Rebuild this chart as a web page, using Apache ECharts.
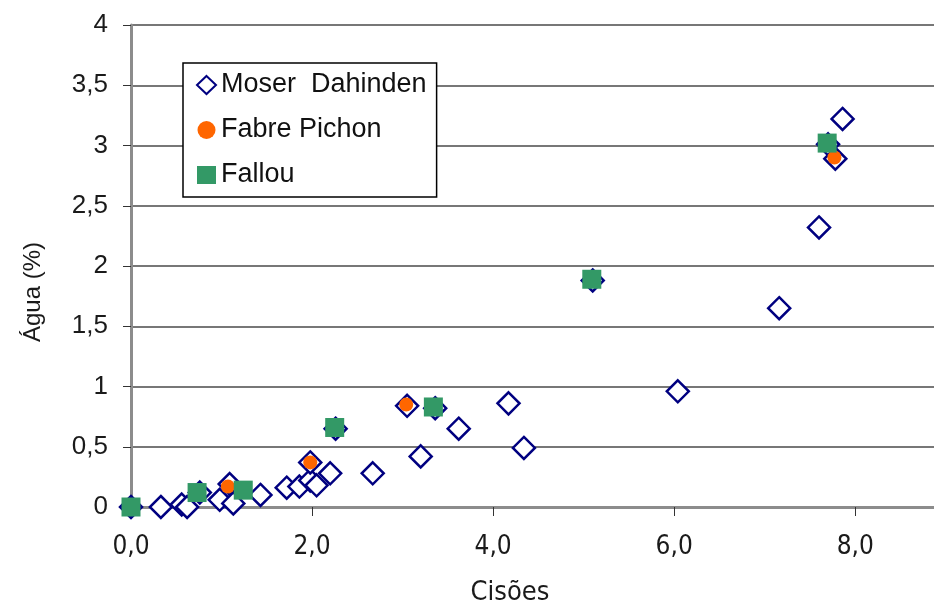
<!DOCTYPE html>
<html>
<head>
<meta charset="utf-8">
<script src="https://cdn.jsdelivr.net/npm/echarts@6/dist/echarts.min.js"></script>
<style>
  html, body { margin: 0; padding: 0; background: #fff; }
  #chart { width: 934px; height: 605px; }
</style>
</head>
<body>
<div id="chart"></div>
<script>
// Teor de água (%) em função do número de cisões, três séries de ensaio
const moserDahinden = [
  [0.00, 0.00], [0.33, 0.00], [0.56, 0.02], [0.62, 0.00], [0.76, 0.12],
  [0.98, 0.06], [1.09, 0.19], [1.13, 0.03], [1.43, 0.10], [1.72, 0.16],
  [1.86, 0.17], [1.98, 0.22], [2.05, 0.18], [1.98, 0.37], [2.20, 0.28],
  [2.26, 0.65], [2.67, 0.28], [3.05, 0.84], [3.20, 0.42], [3.36, 0.82],
  [3.62, 0.65], [4.17, 0.86], [4.34, 0.49], [5.10, 1.88], [6.04, 0.96],
  [7.16, 1.65], [7.60, 2.32], [7.70, 3.01], [7.78, 2.89], [7.86, 3.22]
];
const fabrePichon = [
  [1.07, 0.17], [1.98, 0.37], [3.04, 0.85], [7.77, 2.90]
];
const fallou = [
  [0.00, 0.00], [0.73, 0.12], [1.24, 0.14], [2.25, 0.66],
  [3.34, 0.83], [5.09, 1.89], [7.69, 3.02]
];
const seriesNames = ['Moser  Dahinden', 'Fabre Pichon', 'Fallou'];
const yTicks = [0, 0.5, 1, 1.5, 2, 2.5, 3, 3.5, 4];
const xTicks = [0, 2, 4, 6, 8];
// the plot runs off the right edge, so the visible range ends just short of 9
const xVisibleMax = 8.87;

const fmtComma = (v, d) => v.toFixed(d).replace('.', ',');
const sansFont = '"Liberation Sans", Arial, sans-serif';
const narrowFont = '"DejaVu Sans Condensed", "Liberation Sans Narrow", "Arial Narrow", sans-serif';

const chart = echarts.init(document.getElementById('chart'), null, { renderer: 'canvas' });

chart.setOption({
  animation: false,
  backgroundColor: '#ffffff',
  grid: { left: 131, top: 25, right: 0, bottom: 98 },
  legend: {
    orient: 'vertical',
    left: 183,
    top: 63,
    padding: [7, 10, 7, 13],
    itemGap: 15,
    itemWidth: 19,
    itemHeight: 18,
    backgroundColor: '#ffffff',
    borderColor: '#000000',
    borderWidth: 1.5,
    borderRadius: 0,
    data: seriesNames,
    textStyle: { fontFamily: sansFont, fontSize: 27, color: '#111', lineHeight: 30 }
  },
  xAxis: [{
    type: 'value',
    min: xTicks[0],
    max: xVisibleMax,
    interval: 2,
    axisLine: { show: true, onZero: false, lineStyle: { color: '#444', width: 2 } },
    axisTick: { show: true, inside: false, length: 9, lineStyle: { color: '#333', width: 1 } },
    axisLabel: {
      margin: 27,
      showMaxLabel: false,
      fontFamily: narrowFont,
      fontSize: 26,
      color: '#1a1a1a',
      formatter: v => (xTicks.indexOf(v) >= 0 ? fmtComma(v, 1) : '')
    },
    splitLine: { show: false }
  }, {
    type: 'value',
    position: 'top',
    min: 0,
    max: xVisibleMax,
    axisLine: { show: true, lineStyle: { color: '#8c8c8c', width: 3 } },
    axisTick: { show: false },
    axisLabel: { show: false },
    splitLine: { show: false }
  }],
  yAxis: {
    type: 'value',
    min: yTicks[0],
    max: yTicks[yTicks.length - 1],
    interval: 0.5,
    axisLine: { show: true, onZero: false, lineStyle: { color: '#8c8c8c', width: 3 } },
    axisTick: { show: true, inside: false, length: 8, lineStyle: { color: '#333', width: 1 } },
    axisLabel: {
      margin: 23,
      fontFamily: sansFont,
      fontSize: 26,
      color: '#1a1a1a',
      formatter: v => (Number.isInteger(v) ? String(v) : fmtComma(v, 1))
    },
    splitLine: { show: true, lineStyle: { color: '#777', width: 2 } }
  },
  graphic: [
    {
      type: 'text', x: 33, y: 292, rotation: Math.PI / 2,
      style: { text: 'Água (%)', font: '24px ' + sansFont, fill: '#1a1a1a', align: 'center', verticalAlign: 'middle' }
    },
    {
      type: 'text', x: 510, y: 593,
      style: { text: 'Cisões', font: '27px ' + narrowFont, fill: '#1a1a1a', align: 'center', verticalAlign: 'middle' }
    }
  ],
  series: [
    {
      name: seriesNames[0],
      type: 'scatter',
      symbol: 'diamond',
      symbolSize: 22,
      clip: false,
      z: 2,
      itemStyle: { color: '#ffffff', borderColor: '#000080', borderWidth: 2.5, opacity: 1 },
      data: moserDahinden
    },
    {
      name: seriesNames[1],
      type: 'scatter',
      symbol: 'circle',
      symbolSize: 14,
      clip: false,
      z: 3,
      itemStyle: { color: '#ff6600', opacity: 1 },
      data: fabrePichon
    },
    {
      name: seriesNames[2],
      type: 'scatter',
      symbol: 'rect',
      symbolSize: 19,
      clip: false,
      z: 4,
      itemStyle: { color: '#339966', opacity: 1 },
      data: fallou
    }
  ]
});
</script>
</body>
</html>
